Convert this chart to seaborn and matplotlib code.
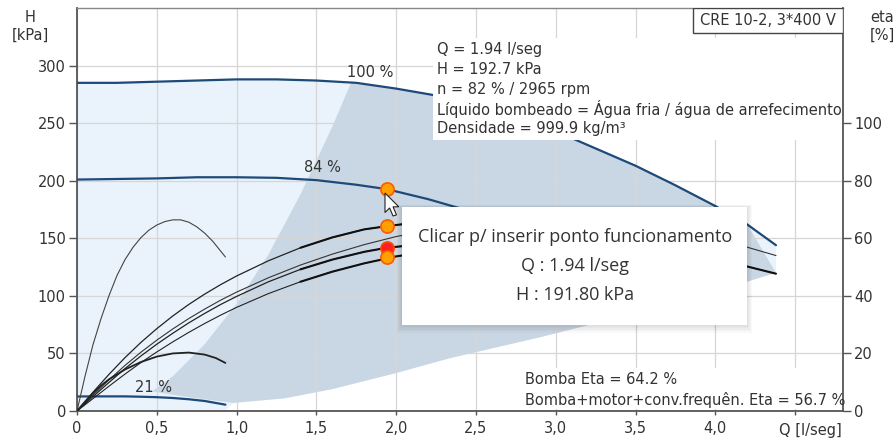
import numpy as np
import pandas as pd
import matplotlib
matplotlib.use("Agg")
import matplotlib.pyplot as plt
import seaborn as sns
from matplotlib.patches import Rectangle, Polygon

# ---------------- data ----------------
# pump head curves (left axis, kPa)
q_100 = [0, 0.25, 0.5, 0.75, 1.0, 1.25, 1.5, 1.75, 2.0, 2.25, 2.5, 2.75, 3.0, 3.25, 3.5, 3.75, 4.0, 4.2, 4.38]
h_100 = [285, 285, 286, 287, 288, 288, 287, 285, 280, 274, 266, 255, 243, 228, 213, 196, 178, 162, 144]
q_84 = [0, 0.25, 0.5, 0.75, 1.0, 1.25, 1.5, 1.75, 1.94, 2.2, 2.5, 2.9, 3.3, 3.68]
h_84 = [201, 201.5, 202, 203, 203, 202.5, 200.5, 196.5, 192.7, 184, 172, 152.5, 129, 101.6]
q_21 = [0, 0.1, 0.2, 0.3, 0.4, 0.5, 0.6, 0.7, 0.8, 0.93]
h_21 = [12.6, 12.7, 12.7, 12.7, 12.4, 12, 11.3, 10.2, 8.7, 5.5]

# efficiency curves (right axis, %)
q_eta_100 = [0, 0.1, 0.2, 0.3, 0.4, 0.5, 0.6, 0.7, 0.8, 0.9, 1.0, 1.2, 1.4, 1.6, 1.8, 2.0,
             2.25, 2.5, 2.75, 3.0, 3.25, 3.5, 3.75, 4.0, 4.2, 4.38]
eta_pump_100 = [0, 5.5, 10.8, 15.8, 20.4, 24.6, 28.5, 32.1, 35.4, 38.5, 41.3, 46.3, 50.7, 54.5,
                57.8, 60.6, 63.3, 65.2, 66.3, 66.6, 66.1, 64.7, 62.6, 59.7, 56.9, 54.0]
eta_total_100 = [0, 4.3, 8.6, 12.8, 16.8, 20.5, 24, 27.3, 30.4, 33.3, 36, 40.8, 44.9, 48.4,
                 51.3, 53.7, 55.9, 57.3, 58.1, 58.3, 57.8, 56.6, 54.8, 52.4, 50.2, 47.7]
q_eta_84 = [0, 0.1, 0.2, 0.3, 0.4, 0.5, 0.6, 0.7, 0.8, 0.9, 1.0, 1.2, 1.4, 1.6, 1.8, 1.94,
            2.1, 2.3, 2.5, 2.75, 3.0, 3.2, 3.4, 3.55, 3.68]
eta_pump_84 = [0, 6.5, 12.7, 18.5, 23.8, 28.6, 33, 37, 40.6, 43.9, 46.9, 52.2, 56.7, 60.3,
               63.1, 64.2, 65.3, 66.2, 66.6, 66.3, 64.7, 62.6, 59.7, 57, 54]
eta_total_84 = [0, 5, 9.9, 14.7, 19.1, 23.2, 27, 30.6, 33.9, 37, 39.8, 44.9, 49.2, 52.6,
                55.3, 56.7, 57.6, 58.2, 58.4, 58, 56.6, 54.8, 52.4, 50.2, 47.7]
q_eta_21 = [0, 0.05, 0.1, 0.15, 0.2, 0.25, 0.3, 0.35, 0.4, 0.45, 0.5, 0.55, 0.6, 0.65,
            0.7, 0.75, 0.8, 0.85, 0.93]
eta_pump_21 = [0, 12, 23, 32, 40, 47, 52.5, 56.8, 60.2, 62.8, 64.6, 65.8, 66.4, 66.4,
               65.6, 64, 61.8, 59, 53.5]
q_eta_tot_21 = [0, 0.05, 0.1, 0.15, 0.2, 0.3, 0.4, 0.5, 0.6, 0.7, 0.8, 0.87, 0.93]
eta_total_21 = [0, 3.2, 6.2, 8.8, 11, 14.4, 17, 18.9, 20, 20.3, 19.6, 18.4, 16.7]

# operating area boundaries (left axis)
q_area_left = [0.47, 0.6, 0.8, 1.0, 1.2, 1.4, 1.6, 1.72]
h_area_left = [17, 30, 58, 93, 136, 188, 247, 286]
q_area_low = [0.47, 0.7, 0.98, 1.3, 1.6, 2.0, 2.34, 2.9, 3.5, 4.0, 4.38]
h_area_low = [17, 12, 7, 11, 19, 33, 46, 64, 85, 104, 120]

# duty point
q_duty = 1.94
h_duty = 192.7
eta_duty_points = [64.2, 53.5]
eta_duty_red = 56.7

x_ticks = [0, 0.5, 1.0, 1.5, 2.0, 2.5, 3.0, 3.5, 4.0, 4.5]
x_tick_labels = ["0", "0,5", "1,0", "1,5", "2,0", "2,5", "3,0", "3,5", "4,0", ""]
y_ticks = [0, 50, 100, 150, 200, 250, 300]
eta_ticks = [0, 20, 40, 60, 80, 100]

info_lines = ["Q = 1.94 l/seg", "H = 192.7 kPa", "n = 82 % / 2965 rpm",
              "Líquido bombeado = Água fria / água de arrefecimento",
              "Densidade = 999.9 kg/m³"]
eta_lines = ["Bomba Eta = 64.2 %", "Bomba+motor+conv.frequên. Eta = 56.7 %"]
tooltip_lines = ["Clicar p/ inserir ponto funcionamento", "Q : 1.94 l/seg", "H : 191.80 kPa"]

# ---------------- style ----------------
sns.set_style("white")
plt.rcParams['font.family'] = ['DejaVu Sans']
TXT = '#333333'
BLUE = '#1d4a78'
FS = 10.5

fig = plt.figure(figsize=(8.96, 4.41), dpi=100)
ax = fig.add_axes([77/896, 30/441, 766/896, 403/441])

# shaded areas
light_x = [0] + q_100 + q_area_low[::-1][:-2] + [0.93]
light_y = [0] + h_100 + h_area_low[::-1][:-2] + [0]
ax.fill(light_x, light_y, color='#eaf3fb', lw=0, zorder=0.2)
i_top = [i for i, q in enumerate(q_100) if 1.72 < q <= 4.2]
dark_x = q_area_left + [q_100[i] for i in i_top] + q_area_low[::-1]
dark_y = h_area_left + [h_100[i] for i in i_top] + h_area_low[::-1]
ax.fill(dark_x, dark_y, color='#c9d7e4', lw=0, zorder=0.25)

# head curves
for qs, hs in [(q_100, h_100), (q_84, h_84), (q_21, h_21)]:
    sns.lineplot(data=pd.DataFrame({'Q': qs, 'H': hs}), x='Q', y='H', ax=ax,
                 color=BLUE, linewidth=1.6, estimator=None, sort=False, zorder=3)

ax.text(1.84, 294, "100 %", ha='center', va='center', fontsize=FS, color=TXT, zorder=4)
ax.text(1.54, 211.5, "84 %", ha='center', va='center', fontsize=FS, color=TXT, zorder=4)
ax.text(0.48, 20, "21 %", ha='center', va='center', fontsize=FS, color=TXT, zorder=4)

sns.scatterplot(x=[q_duty], y=[h_duty], ax=ax, s=90, color='#ffa000',
                edgecolor='#ff5a00', linewidth=1.2, zorder=6)

ax.set_xlim(0, 4.8)
ax.set_ylim(0, 350)
ax.set_xticks(x_ticks)
ax.set_xticklabels(x_tick_labels)
ax.set_yticks(y_ticks)
ax.set_xlabel('')
ax.set_ylabel('')
ax.grid(True, color='#d6d6d6', linewidth=0.9)
ax.set_axisbelow(True)
ax.tick_params(axis='y', length=6, width=1, colors='#555555', labelcolor=TXT, labelsize=FS, pad=2, left=True)
ax.tick_params(axis='x', length=3, width=1, colors='#555555', labelcolor=TXT, labelsize=FS, pad=4, bottom=True)
for s in ['left', 'bottom']:
    ax.spines[s].set_color('#555555')
    ax.spines[s].set_linewidth(1.3)
ax.spines['top'].set_color('#888888')
ax.spines['top'].set_linewidth(1.0)
ax.spines['right'].set_visible(False)

# efficiency axis
ax2 = ax.twinx()
eta_sets = [
    (q_eta_100, eta_pump_100, 0.8, '#333333'),
    (q_eta_100, eta_total_100, 0.8, '#222222'),
    (q_eta_84, eta_pump_84, 0.9, '#222222'),
    (q_eta_84, eta_total_84, 0.9, '#222222'),
    (q_eta_21, eta_pump_21, 0.8, '#444444'),
    (q_eta_tot_21, eta_total_21, 1.3, '#222222'),
]
for qs, es, lw, c in eta_sets:
    sns.lineplot(data=pd.DataFrame({'Q': qs, 'E': es}), x='Q', y='E', ax=ax2,
                 color=c, linewidth=lw, estimator=None, sort=False, zorder=3)
# thicker segments
for qs, es in [(q_eta_84, eta_pump_84), (q_eta_84, eta_total_84), (q_eta_100, eta_total_100)]:
    d = pd.DataFrame({'Q': qs, 'E': es})
    d = d[d.Q >= 1.4]
    sns.lineplot(data=d, x='Q', y='E', ax=ax2, color='#111111', linewidth=1.5,
                 estimator=None, sort=False, zorder=3)

sns.scatterplot(x=[q_duty], y=[eta_duty_red], ax=ax2, s=90, color='#ff2020',
                edgecolor='#ff4a00', linewidth=1.2, zorder=6)
sns.scatterplot(x=[q_duty] * len(eta_duty_points), y=eta_duty_points, ax=ax2, s=90,
                color='#ffa000', edgecolor='#ff5a00', linewidth=1.2, zorder=7)

ax2.set_ylim(0, 140)
ax2.set_yticks(eta_ticks)
ax2.set_xlabel('')
ax2.set_ylabel('')
ax2.grid(False)
ax2.tick_params(axis='y', length=6, width=1, colors='#555555', labelcolor=TXT, labelsize=FS, pad=2, right=True)
for s in ['left', 'bottom', 'top']:
    ax2.spines[s].set_visible(False)
ax2.spines['right'].set_color('#555555')
ax2.spines['right'].set_linewidth(1.3)

T = ax2.transAxes
# info box top right
ax2.add_patch(Rectangle((0.465, 0.672), 0.534, 0.254, transform=T, facecolor='white',
                        edgecolor='none', zorder=9))
for i, line in enumerate(info_lines):
    ax2.text(0.470, 0.896 - i * 0.0485, line, transform=T, fontsize=FS, color=TXT,
             ha='left', va='center', zorder=10)
# model box
ax2.add_patch(Rectangle((0.804, 0.938), 0.196, 0.062, transform=T, facecolor='white',
                        edgecolor='#444444', linewidth=1.0, zorder=9))
ax2.text(0.902, 0.969, "CRE 10-2, 3*400 V", transform=T, fontsize=FS, color=TXT,
         ha='center', va='center', zorder=10)
# efficiency box bottom right
ax2.add_patch(Rectangle((0.576, 0.004), 0.423, 0.103, transform=T, facecolor='white',
                        edgecolor='none', zorder=9))
for i, line in enumerate(eta_lines):
    ax2.text(0.585, 0.077 - i * 0.05, line, transform=T, fontsize=FS, color=TXT,
             ha='left', va='center', zorder=10)

# tooltip with soft shadow
tx0, ty0, tw, th = 0.424, 0.213, 0.451, 0.293
for k in range(1, 6):
    dx = k * 1.0 / 766
    dy = k * 1.0 / 403
    ax2.add_patch(Rectangle((tx0 - dx, ty0 - dy * 1.5), tw + 2 * dx, th + 2 * dy, transform=T,
                            facecolor='black', alpha=0.025, edgecolor='none', zorder=11))
ax2.add_patch(Rectangle((tx0, ty0), tw, th, transform=T, facecolor='white',
                        edgecolor='none', zorder=12))
for i, line in enumerate(tooltip_lines):
    ax2.text(0.650, 0.432 - i * 0.072, line, transform=T, fontsize=13, color=TXT,
             family=['Open Sans', 'DejaVu Sans'], ha='center', va='center', zorder=13)

# mouse cursor
cur = np.array([(0, 0), (0, 17), (4, 13), (7, 20), (10, 19), (7, 12), (12, 12)]) * 1.15
cur_px = np.column_stack([385 + cur[:, 0], 441 - (193 + cur[:, 1])])
fig.add_artist(Polygon(cur_px, closed=True, transform=None, facecolor='white',
                       edgecolor='#222222', linewidth=0.8, zorder=20))

# axis titles
fig.text(30/896, 1 - 17/441, "H", ha='center', va='center', fontsize=FS, color=TXT)
fig.text(30/896, 1 - 35/441, "[kPa]", ha='center', va='center', fontsize=FS, color=TXT)
fig.text(882/896, 1 - 17/441, "eta", ha='center', va='center', fontsize=FS, color=TXT)
fig.text(882/896, 1 - 35/441, "[%]", ha='center', va='center', fontsize=FS, color=TXT)
fig.text(842/896, 1 - 430/441, "Q [l/seg]", ha='right', va='center', fontsize=FS, color=TXT)

fig.savefig("out.png", dpi=100)
